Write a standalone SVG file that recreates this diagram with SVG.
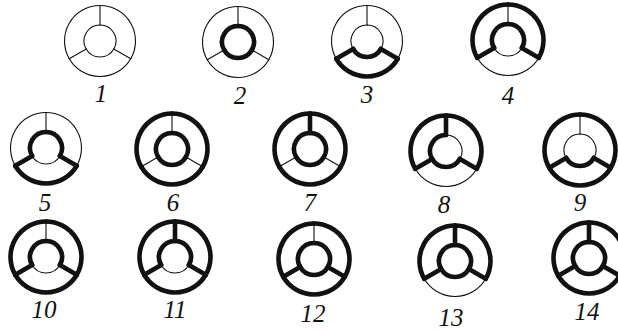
<svg xmlns="http://www.w3.org/2000/svg" xmlns:xlink="http://www.w3.org/1999/xlink" width="618" height="330" viewBox="0 0 618 330">
<style>
.t{fill:none;stroke:#111;stroke-width:1.1;stroke-linecap:round}
.k{fill:none;stroke:#111;stroke-width:4.6;stroke-linecap:round}
.lbl{font-family:"Liberation Serif","Times New Roman",serif;font-style:italic;font-size:25px;fill:#111;text-anchor:middle}
</style>
<defs>
<path id="oR" d="M0,-35.5 A35.5,35.5 0 0 1 30.74,17.75"/>
<path id="oL" d="M-30.74,17.75 A35.5,35.5 0 0 1 0,-35.5"/>
<path id="oB" d="M30.74,17.75 A35.5,35.5 0 0 1 -30.74,17.75"/>
<path id="iR" d="M0,-16 A16,16 0 0 1 13.86,8"/>
<path id="iL" d="M-13.86,8 A16,16 0 0 1 0,-16"/>
<path id="iB" d="M13.86,8 A16,16 0 0 1 -13.86,8"/>
<path id="sT" d="M0,-16 V-35.5"/>
<path id="sR" d="M13.86,8 L30.74,17.75"/>
<path id="sL" d="M-13.86,8 L-30.74,17.75"/>
</defs>
<g id="fig1" transform="translate(100,41)">
<use href="#oR" class="t"/><use href="#oL" class="t"/><use href="#oB" class="t"/>
<use href="#iR" class="t"/><use href="#iL" class="t"/><use href="#iB" class="t"/>
<use href="#sT" class="t"/><use href="#sR" class="t"/><use href="#sL" class="t"/>
</g>
<g id="fig2" transform="translate(238,42)">
<use href="#oR" class="t"/><use href="#oL" class="t"/><use href="#oB" class="t"/>
<use href="#sT" class="t"/><use href="#sR" class="t"/><use href="#sL" class="t"/>
<use href="#iR" class="k"/><use href="#iL" class="k"/><use href="#iB" class="k"/>
</g>
<g id="fig3" transform="translate(367,41)">
<use href="#oR" class="t"/><use href="#oL" class="t"/><use href="#iR" class="t"/><use href="#iL" class="t"/><use href="#sT" class="t"/>
<use href="#oB" class="k"/><use href="#iB" class="k"/><use href="#sR" class="k"/><use href="#sL" class="k"/>
</g>
<g id="fig4" transform="translate(508,40)">
<use href="#oB" class="t"/><use href="#iB" class="t"/><use href="#sT" class="t"/>
<use href="#oR" class="k"/><use href="#oL" class="k"/><use href="#iR" class="k"/><use href="#iL" class="k"/><use href="#sR" class="k"/><use href="#sL" class="k"/>
</g>
<g id="fig5" transform="translate(46,148)">
<use href="#oR" class="t"/><use href="#oL" class="t"/><use href="#iB" class="t"/><use href="#sT" class="t"/>
<use href="#oB" class="k"/><use href="#iR" class="k"/><use href="#iL" class="k"/><use href="#sR" class="k"/><use href="#sL" class="k"/>
</g>
<g id="fig6" transform="translate(172,149)">
<use href="#sT" class="t"/><use href="#sR" class="t"/><use href="#sL" class="t"/>
<use href="#oR" class="k"/><use href="#oL" class="k"/><use href="#oB" class="k"/>
<use href="#iR" class="k"/><use href="#iL" class="k"/><use href="#iB" class="k"/>
</g>
<g id="fig7" transform="translate(310,149)">
<use href="#sR" class="t"/><use href="#sL" class="t"/>
<use href="#oR" class="k"/><use href="#oL" class="k"/><use href="#oB" class="k"/>
<use href="#iR" class="k"/><use href="#iL" class="k"/><use href="#iB" class="k"/><use href="#sT" class="k"/>
</g>
<g id="fig8" transform="translate(446,151)">
<use href="#oB" class="t"/><use href="#iR" class="t"/>
<use href="#oR" class="k"/><use href="#oL" class="k"/><use href="#iL" class="k"/><use href="#iB" class="k"/>
<use href="#sT" class="k"/><use href="#sR" class="k"/><use href="#sL" class="k"/>
</g>
<g id="fig9" transform="translate(580,150)">
<use href="#sT" class="t"/><use href="#iR" class="t"/><use href="#iL" class="t"/>
<use href="#oR" class="k"/><use href="#oL" class="k"/><use href="#oB" class="k"/>
<use href="#iB" class="k"/><use href="#sR" class="k"/><use href="#sL" class="k"/>
</g>
<g id="fig10" transform="translate(46,257)">
<use href="#sT" class="t"/><use href="#iB" class="t"/>
<use href="#oR" class="k"/><use href="#oL" class="k"/><use href="#oB" class="k"/>
<use href="#iR" class="k"/><use href="#iL" class="k"/><use href="#sR" class="k"/><use href="#sL" class="k"/>
</g>
<g id="fig11" transform="translate(175,257)">
<use href="#iB" class="t"/>
<use href="#oR" class="k"/><use href="#oL" class="k"/><use href="#oB" class="k"/>
<use href="#iR" class="k"/><use href="#iL" class="k"/>
<use href="#sT" class="k"/><use href="#sR" class="k"/><use href="#sL" class="k"/>
</g>
<g id="fig12" transform="translate(314,259)">
<use href="#sT" class="t"/>
<use href="#oR" class="k"/><use href="#oL" class="k"/><use href="#oB" class="k"/>
<use href="#iR" class="k"/><use href="#iL" class="k"/><use href="#iB" class="k"/>
<use href="#sR" class="k"/><use href="#sL" class="k"/>
</g>
<g id="fig13" transform="translate(455,261)">
<use href="#oB" class="t"/>
<use href="#oR" class="k"/><use href="#oL" class="k"/>
<use href="#iR" class="k"/><use href="#iL" class="k"/><use href="#iB" class="k"/>
<use href="#sT" class="k"/><use href="#sR" class="k"/><use href="#sL" class="k"/>
</g>
<g id="fig14" transform="translate(589,258)">
<use href="#oR" class="k"/><use href="#oL" class="k"/><use href="#oB" class="k"/>
<use href="#iR" class="k"/><use href="#iL" class="k"/><use href="#iB" class="k"/>
<use href="#sT" class="k"/><use href="#sR" class="k"/><use href="#sL" class="k"/>
</g>
<g id="labels">
<text class="lbl" x="101" y="102">1</text>
<text class="lbl" x="240" y="104">2</text>
<text class="lbl" x="367" y="103">3</text>
<text class="lbl" x="508" y="104">4</text>
<text class="lbl" x="45" y="211">5</text>
<text class="lbl" x="173" y="211">6</text>
<text class="lbl" x="310" y="211">7</text>
<text class="lbl" x="444" y="213">8</text>
<text class="lbl" x="580" y="211">9</text>
<text class="lbl" x="44" y="318">10</text>
<text class="lbl" x="175" y="318">11</text>
<text class="lbl" x="313" y="322">12</text>
<text class="lbl" x="451" y="326">13</text>
<text class="lbl" x="587" y="320">14</text>
</g>
</svg>
